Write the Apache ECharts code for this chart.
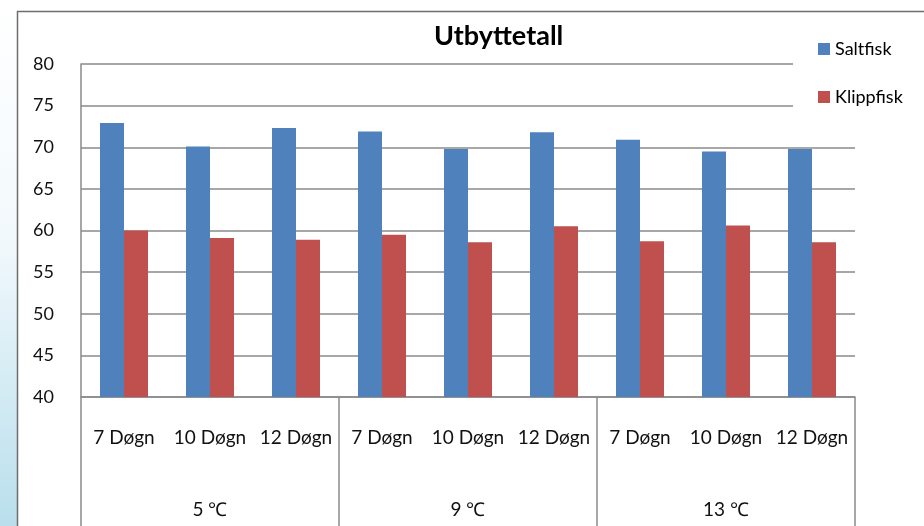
<!DOCTYPE html>
<html>
<head>
<meta charset="utf-8">
<script src="https://cdn.jsdelivr.net/npm/echarts@6/dist/echarts.min.js"></script>
<style>
html,body{margin:0;padding:0;background:#fff;}
#chart{width:924px;height:526px;}
</style>
</head>
<body>
<div id="chart"></div>
<script>
var days = ['7 Døgn','10 Døgn','12 Døgn','7 Døgn','10 Døgn','12 Døgn','7 Døgn','10 Døgn','12 Døgn'];
var temps = ['5 ℃','9 ℃','13 ℃'];
var saltfisk = [72.9, 70.1, 72.3, 71.9, 69.8, 71.8, 70.9, 69.5, 69.8];
var klippfisk = [60.0, 59.1, 58.9, 59.5, 58.6, 60.5, 58.7, 60.6, 58.6];
var yTicks = {min: 40, max: 80, interval: 5};

var FONT = 'Lato';
var gridColor = '#8a8a8a';
var chart = echarts.init(document.getElementById('chart'));
chart.setOption({
  backgroundColor: '#fff',
  animation: false,
  textStyle: {fontFamily: FONT},
  graphic: [
    {type: 'rect', z: -10, shape: {x: 0, y: 0, width: 17, height: 526},
     style: {fill: new echarts.graphic.LinearGradient(0, 0, 0, 1, [
       {offset: 0, color: '#ffffff'}, {offset: 0.45, color: '#f2f9fc'}, {offset: 1, color: '#b9dfec'}])}},
    {type: 'rect', z: -10, shape: {x: 17.5, y: 11.5, width: 1000, height: 600},
     style: {fill: 'none', stroke: '#6e6e6e', lineWidth: 1.5}},
    {type: 'rect', z: 3, shape: {x: 793, y: 40, width: 131, height: 85},
     style: {fill: '#fff'}}
  ],
  title: {
    text: 'Utbyttetall', left: 434, top: 23, padding: 0,
    textStyle: {fontFamily: FONT, fontWeight: 'bold', fontSize: 27, color: '#000'}
  },
  legend: {
    orient: 'vertical', left: 818, top: 40, padding: 0,
    itemWidth: 12, itemHeight: 12, itemGap: 30, icon: 'rect',
    textStyle: {fontFamily: FONT, fontSize: 18, color: '#000', lineHeight: 18},
    data: ['Saltfisk', 'Klippfisk']
  },
  grid: {left: 81, right: 69, top: 64, bottom: 129},
  xAxis: [
    {type: 'category', data: days, position: 'bottom',
     axisLine: {show: false}, axisTick: {show: false},
     axisLabel: {interval: 0, margin: 31, fontFamily: FONT, fontSize: 19, color: '#111'}},
    {type: 'category', data: temps, position: 'bottom',
     axisLine: {show: true, lineStyle: {color: gridColor, width: 1.5}},
     axisTick: {show: true, interval: 0, length: 140, lineStyle: {color: gridColor, width: 1.5}},
     axisLabel: {interval: 0, margin: 103, fontFamily: FONT, fontSize: 19, color: '#111'}}
  ],
  yAxis: {
    type: 'value', min: yTicks.min, max: yTicks.max, interval: yTicks.interval,
    axisLine: {show: true, lineStyle: {color: gridColor, width: 1.5}},
    axisTick: {show: false},
    axisLabel: {margin: 27, fontFamily: FONT, fontSize: 18, color: '#111'},
    splitLine: {show: true, lineStyle: {color: gridColor, width: 1.5}}
  },
  series: [
    {name: 'Saltfisk', type: 'bar', data: saltfisk, barWidth: 24, barGap: '0%',
     itemStyle: {color: '#4f81bd'}},
    {name: 'Klippfisk', type: 'bar', data: klippfisk, barWidth: 24, barGap: '0%',
     itemStyle: {color: '#c0504d'}}
  ]
});
</script>
</body>
</html>
